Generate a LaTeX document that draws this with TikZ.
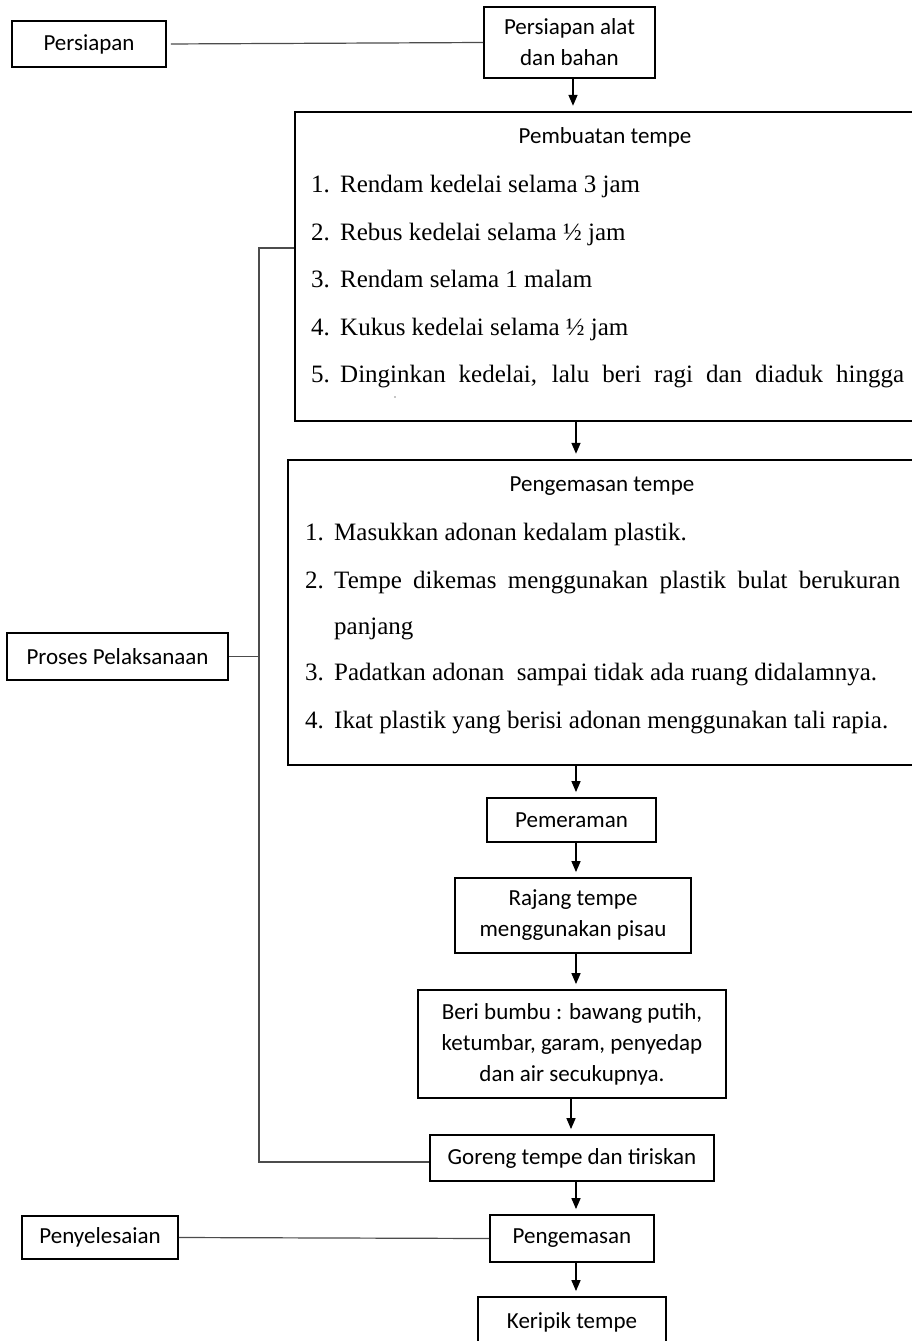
\documentclass[tikz,border=0pt]{standalone}
\usepackage{fontspec}
\setmainfont{Liberation Serif}
\newfontfamily\labfont{Carlito}
\usetikzlibrary{arrows.meta}
\begin{document}
\begin{tikzpicture}[x=1pt,y=-1pt,
  box/.style={draw=black,line width=1.8pt,inner sep=0pt,align=center,font=\labfont\fontsize{23}{31}\selectfont},
  bigbox/.style={draw=black,line width=2.4pt,inner sep=0pt},
  hdr/.style={font=\labfont\fontsize{23}{31}\selectfont,anchor=base,inner sep=0pt},
  item/.style={font=\fontsize{25}{30}\selectfont,anchor=base west,inner sep=0pt},
  conn/.style={draw=black!70,line width=1.2pt},
  arr/.style={draw=black,line width=1.5pt,-{Triangle[length=11pt,width=9pt]},shorten >=5pt}
]
\useasboundingbox (0,0) rectangle (912,1341);
\fill[white] (0,0) rectangle (912,1341);
\clip (0,0) rectangle (912,1341);

% left labels
\node[box,minimum width=154pt,minimum height=46pt] (persiapan) at (89,44) {Persiapan};
\node[box,minimum width=221pt,minimum height=47pt] (proses) at (117.5,656.5) {Proses Pelaksanaan};
\node[box,minimum width=156pt,minimum height=43pt] (penyelesaian) at (100,1237.5) {Penyelesaian};

% main column
\node[box,minimum width=171pt,minimum height=71pt] (alat) at (569.5,42.5) {Persiapan alat\\dan bahan};
\node[bigbox,minimum width=640pt,minimum height=309pt] (pembuatan) at (615,266.5) {};
\node[hdr] (pembuatanH) at (605,143) {Pembuatan tempe};
\node[item] (b1) at (311,192) {\makebox[29pt][l]{1.}Rendam kedelai selama 3 jam};
\node[item] (b2) at (311,240) {\makebox[29pt][l]{2.}Rebus kedelai selama ½ jam};
\node[item] (b3) at (311,287) {\makebox[29pt][l]{3.}Rendam selama 1 malam};
\node[item] (b4) at (311,335) {\makebox[29pt][l]{4.}Kukus kedelai selama ½ jam};
\node[item] (b5) at (311,382) {\makebox[29pt][l]{5.}\makebox[564pt][s]{Dinginkan kedelai, lalu beri ragi dan diaduk hingga}};
\fill[black!45] (395,397) circle (0.9);

\node[bigbox,minimum width=647pt,minimum height=305pt] (kemasT) at (611.5,612.5) {};
\node[hdr] (kemasTH) at (602,491) {Pengemasan tempe};
\node[item] (k1) at (305,540) {\makebox[29pt][l]{1.}Masukkan adonan kedalam plastik.};
\node[item] (k2) at (305,588) {\makebox[29pt][l]{2.}\makebox[566pt][s]{Tempe dikemas menggunakan plastik bulat berukuran}};
\node[item] (k2b) at (334,634) {panjang};
\node[item] (k3) at (305,680) {\makebox[29pt][l]{3.}Padatkan adonan\ \ sampai tidak ada ruang didalamnya.};
\node[item] (k4) at (305,728) {\makebox[29pt][l]{4.}Ikat plastik yang berisi adonan menggunakan tali rapia.};

\node[box,minimum width=169pt,minimum height=44pt] (pemeraman) at (571.5,820) {Pemeraman};
\node[box,minimum width=236pt,minimum height=75pt] (rajang) at (573,915.5) {Rajang tempe\\menggunakan pisau};
\node[box,minimum width=308pt,minimum height=108pt] (bumbu) at (572,1044) {Beri bumbu : bawang putih,\\ketumbar, garam, penyedap\\dan air secukupnya.};
\node[box,minimum width=284pt,minimum height=46pt] (goreng) at (572,1158) {Goreng tempe dan tiriskan};
\node[box,minimum width=164pt,minimum height=47pt] (pengemasan) at (572,1238.5) {Pengemasan};
\node[box,minimum width=188pt,minimum height=50pt] (keripik) at (572,1322) {Keripik tempe};

% side connectors
\draw[conn,shorten <=4pt] (persiapan.east) -- (alat.west);
\draw[conn] (penyelesaian.east) -- (pengemasan.west);
\coordinate (brTop) at (259,248);
\coordinate (brBot) at (259,1162);
\draw[conn] (pembuatan.west |- brTop) -- (brTop) -- (brBot) -- ([yshift=-4pt]goreng.west);
\draw[conn] (proses.east) -- (proses.east -| brTop);

% arrows
\draw[arr] ([xshift=3.5pt]alat.south) -- ([xshift=3.5pt]alat.south |- pembuatan.north);
\path (pembuatan.south -| pemeraman.north) ++(4.5,0) coordinate (a2s);
\draw[arr] (a2s) -- (a2s |- kemasT.north);
\path (kemasT.south -| pemeraman.north) ++(4.5,0) coordinate (a3s);
\draw[arr] (a3s) -- (a3s |- pemeraman.north);
\draw[arr] ([xshift=4.5pt]pemeraman.south) -- ([xshift=4.5pt]pemeraman.south |- rajang.north);
\draw[arr] ([xshift=3pt]rajang.south) -- ([xshift=3pt]rajang.south |- bumbu.north);
\draw[arr] ([xshift=-1pt]bumbu.south) -- ([xshift=-1pt]bumbu.south |- goreng.north);
\draw[arr] ([xshift=4pt]goreng.south) -- ([xshift=4pt]goreng.south |- pengemasan.north);
\draw[arr] ([xshift=4pt]pengemasan.south) -- ([xshift=4pt]pengemasan.south |- keripik.north);
\end{tikzpicture}
\end{document}
